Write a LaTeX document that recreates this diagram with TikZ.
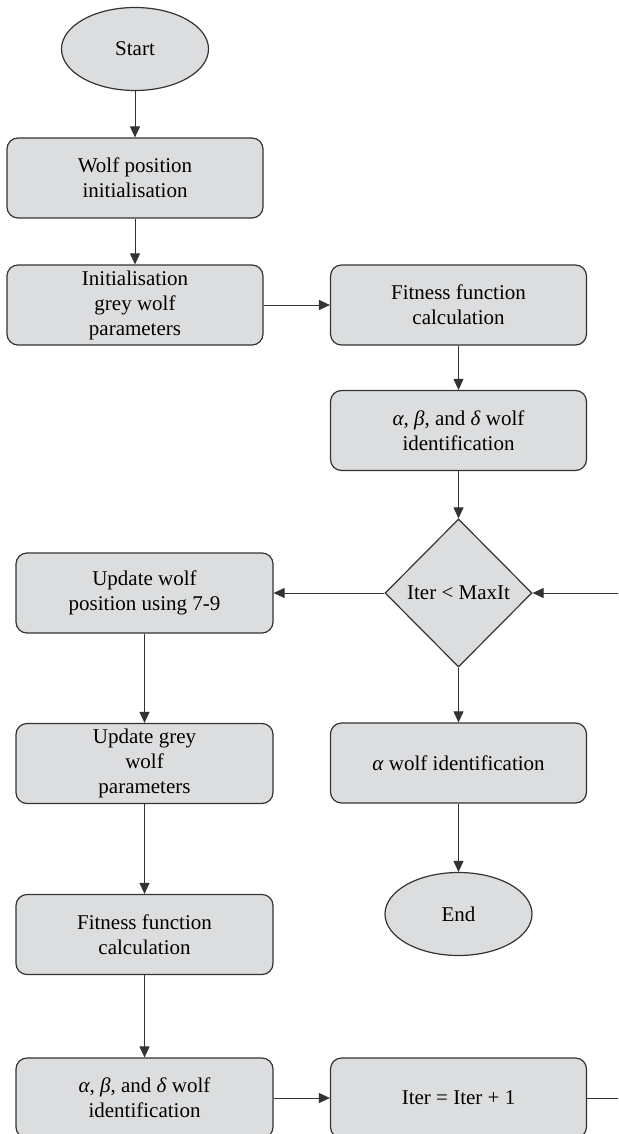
\documentclass[tikz,border=0pt]{standalone}
\usepackage{fontspec}
\setmainfont{Liberation Serif}
\usetikzlibrary{arrows.meta, shapes.geometric}

\definecolor{boxgrey}{HTML}{DCDDDF}
\definecolor{edgegrey}{HTML}{333333}

\tikzset{
  procbox/.style={draw=edgegrey, fill=boxgrey, rounded corners=11pt, line width=1.2pt,
    minimum width=256pt, minimum height=80pt, align=center, inner sep=0pt},
  termbox/.style={ellipse, draw=edgegrey, fill=boxgrey, line width=1.2pt,
    minimum width=147pt, minimum height=83pt, inner sep=0pt},
  testbox/.style={diamond, draw=edgegrey, fill=boxgrey, line width=1.2pt,
    minimum width=147pt, minimum height=148pt, inner sep=0pt},
  flow/.style={draw=edgegrey, line width=1pt, -{Triangle[length=11pt,width=10pt]}},
}

\begin{document}
\begin{tikzpicture}[x=1pt, y=-1pt, font=\fontsize{21}{25}\selectfont]
	\clip (0,0) rectangle (618,1134);
	% left column, top
	\node[termbox] (start) at (135,49) {Start};
	\node[procbox] (wpi) at (135,178) {Wolf position\\initialisation};
	\node[procbox] (igp) at (135,305) {Initialisation\\grey wolf\\parameters};
	% right column
	\node[procbox] (ffc) at (458.5,305) {Fitness function\\calculation};
	\node[procbox] (abd) at (458.5,430.5) {\textit{α}, \textit{β}, and \textit{δ} wolf\\identification};
	\node[testbox] (cond) at (458.5,593) {Iter < MaxIt};
	\node[procbox] (awi) at (458.5,763) {\textit{α} wolf identification};
	\node[termbox] (finish) at (458.5,914) {End};
	% left column, loop body
	\node[procbox, minimum width=257pt] (uwp) at (144.5,593) {Update wolf\\position using 7-9};
	\node[procbox, minimum width=257pt] (ugp) at (144.5,763.5) {Update grey\\wolf\\parameters};
	\node[procbox, minimum width=257pt] (ffl) at (144.5,934.5) {Fitness function\\calculation};
	\node[procbox, minimum width=257pt] (abl) at (144.5,1098) {\textit{α}, \textit{β}, and \textit{δ} wolf\\identification};
	\node[procbox] (iter) at (458.5,1098) {Iter = Iter + 1};
	\coordinate (loopr) at (640,593);

	\draw[flow] (start) -- (wpi);
	\draw[flow] (wpi) -- (igp);
	\draw[flow] (igp) -- (ffc);
	\draw[flow] (ffc) -- (abd);
	\draw[flow] (abd) -- (cond);
	\draw[flow] (cond) -- (uwp);
	\draw[flow] (cond) -- (awi);
	\draw[flow] (awi) -- (finish);
	\draw[flow] (uwp) -- (ugp);
	\draw[flow] (ugp) -- (ffl);
	\draw[flow] (ffl) -- (abl);
	\draw[flow] (abl) -- (iter);
	\draw[flow] (iter) -| (loopr) -- (cond);
\end{tikzpicture}
\end{document}
